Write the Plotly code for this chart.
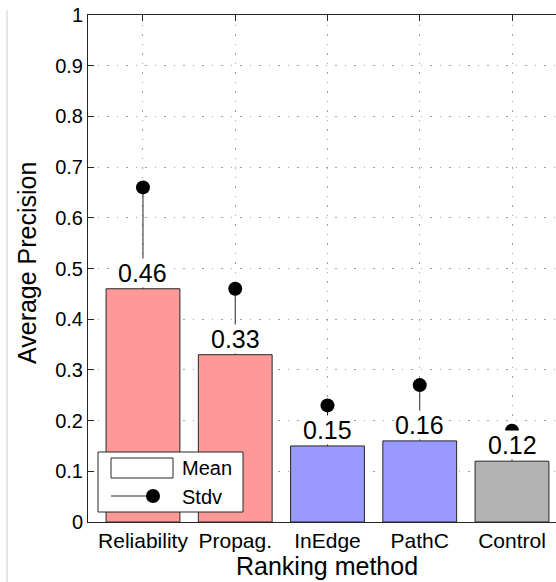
import plotly.graph_objects as go

# Ranking methods and their average precision statistics
methods = ["Reliability", "Propag.", "InEdge", "PathC", "Control"]
mean_precision = [0.46, 0.33, 0.15, 0.16, 0.12]
stdv_precision = [0.20, 0.13, 0.08, 0.11, 0.06]
bar_colors = ["#ff9999", "#ff9999", "#9999ff", "#9999ff", "#b3b3b3"]
y_tick_values = [0, 0.1, 0.2, 0.3, 0.4, 0.5, 0.6, 0.7, 0.8, 0.9, 1]
y_tick_labels = ["0", "0.1", "0.2", "0.3", "0.4", "0.5", "0.6", "0.7", "0.8", "0.9", "1"]

W, H = 556, 582
ML, MR, MT, MB = 88, 0, 15, 60
PW, PH = W - ML - MR, H - MT - MB
FONT = "Liberation Sans, Arial, Helvetica, sans-serif"
INK = "#262626"


def px(x):
    """Horizontal pixel position -> paper coordinate."""
    return (x - ML) / PW


def py(y):
    """Vertical pixel position -> paper coordinate."""
    return (H - MB - y) / PH


upper = [m + s for m, s in zip(mean_precision, stdv_precision)]

fig = go.Figure()

fig.add_trace(go.Bar(
    x=methods,
    y=mean_precision,
    width=0.8,
    marker=dict(color=bar_colors, line=dict(color=INK, width=1)),
    showlegend=False,
    hoverinfo="skip",
))

# Standard deviation: stem from the mean up to a filled dot at mean + stdv
fig.add_trace(go.Scatter(
    x=methods,
    y=upper,
    mode="markers",
    marker=dict(color="black", size=14, line=dict(color="black", width=0)),
    error_y=dict(type="data", symmetric=False,
                 array=[0] * len(methods), arrayminus=stdv_precision,
                 color=INK, thickness=1, width=0),
    showlegend=False,
    hoverinfo="skip",
))

annotations = []
# Mean values printed above each bar on a white label
for name, m in zip(methods, mean_precision):
    annotations.append(dict(
        x=name, y=m, xref="x", yref="y",
        text=f"{m:.2f}", showarrow=False,
        yanchor="middle", yshift=16,
        bgcolor="white", borderpad=0,
        font=dict(family=FONT, size=25, color="black"),
    ))

# Axis titles
annotations.append(dict(
    x=px(327), y=py(566), xref="paper", yref="paper",
    text="Ranking method", showarrow=False,
    xanchor="center", yanchor="middle",
    font=dict(family=FONT, size=25, color="black"),
))
annotations.append(dict(
    x=px(27), y=py(263), xref="paper", yref="paper",
    text="Average Precision", showarrow=False, textangle=-90,
    xanchor="center", yanchor="middle",
    font=dict(family=FONT, size=25, color="black"),
))

# Legend entries
annotations.append(dict(
    x=px(180), y=py(468), xref="paper", yref="paper",
    text="Mean", showarrow=False, xanchor="left", yanchor="middle",
    font=dict(family=FONT, size=20, color="black"),
))
annotations.append(dict(
    x=px(180), y=py(497), xref="paper", yref="paper",
    text="Stdv", showarrow=False, xanchor="left", yanchor="middle",
    font=dict(family=FONT, size=20, color="black"),
))

shapes = [
    # thin page border on the left
    dict(type="line", xref="paper", yref="paper",
         x0=px(7), x1=px(7), y0=py(10), y1=py(582),
         line=dict(color="#d0d0d0", width=1), layer="below"),
    # legend frame
    dict(type="rect", xref="paper", yref="paper",
         x0=px(98), x1=px(243), y0=py(512), y1=py(452),
         fillcolor="white", line=dict(color=INK, width=1)),
    # legend swatch for the mean bars
    dict(type="rect", xref="paper", yref="paper",
         x0=px(111), x1=px(173), y0=py(478), y1=py(458),
         fillcolor="white", line=dict(color=INK, width=1)),
    # legend line + dot for stdv
    dict(type="line", xref="paper", yref="paper",
         x0=px(111), x1=px(153), y0=py(496), y1=py(496),
         line=dict(color=INK, width=1)),
    dict(type="circle", xref="paper", yref="paper",
         x0=px(146), x1=px(160), y0=py(503), y1=py(489),
         fillcolor="black", line=dict(color="black", width=0)),
]

fig.update_layout(
    width=W, height=H,
    margin=dict(l=ML, r=MR, t=MT, b=MB, pad=0),
    paper_bgcolor="white", plot_bgcolor="white",
    font=dict(family=FONT, color="black"),
    bargap=0.2,
    annotations=annotations,
    shapes=shapes,
)

fig.update_xaxes(
    range=[-0.596, 4.477],
    showline=True, linecolor=INK, linewidth=1, mirror="ticks",
    ticks="inside", ticklen=6, tickcolor=INK, tickwidth=1,
    showgrid=True, gridcolor="#a0a0a0", gridwidth=1, griddash="1.5px,8px",
    tickfont=dict(family=FONT, size=21, color="black"),
    layer="below traces",
    zeroline=False,
)
fig.update_yaxes(
    range=[0, 1],
    tickvals=y_tick_values, ticktext=y_tick_labels,
    showline=True, linecolor=INK, linewidth=1,
    ticks="inside", ticklen=6, tickcolor=INK, tickwidth=1,
    showgrid=True, gridcolor="#a0a0a0", gridwidth=1, griddash="1.5px,8px",
    tickfont=dict(family=FONT, size=20, color="black"),
    layer="below traces",
    zeroline=False,
)

fig.write_html("out.html")
